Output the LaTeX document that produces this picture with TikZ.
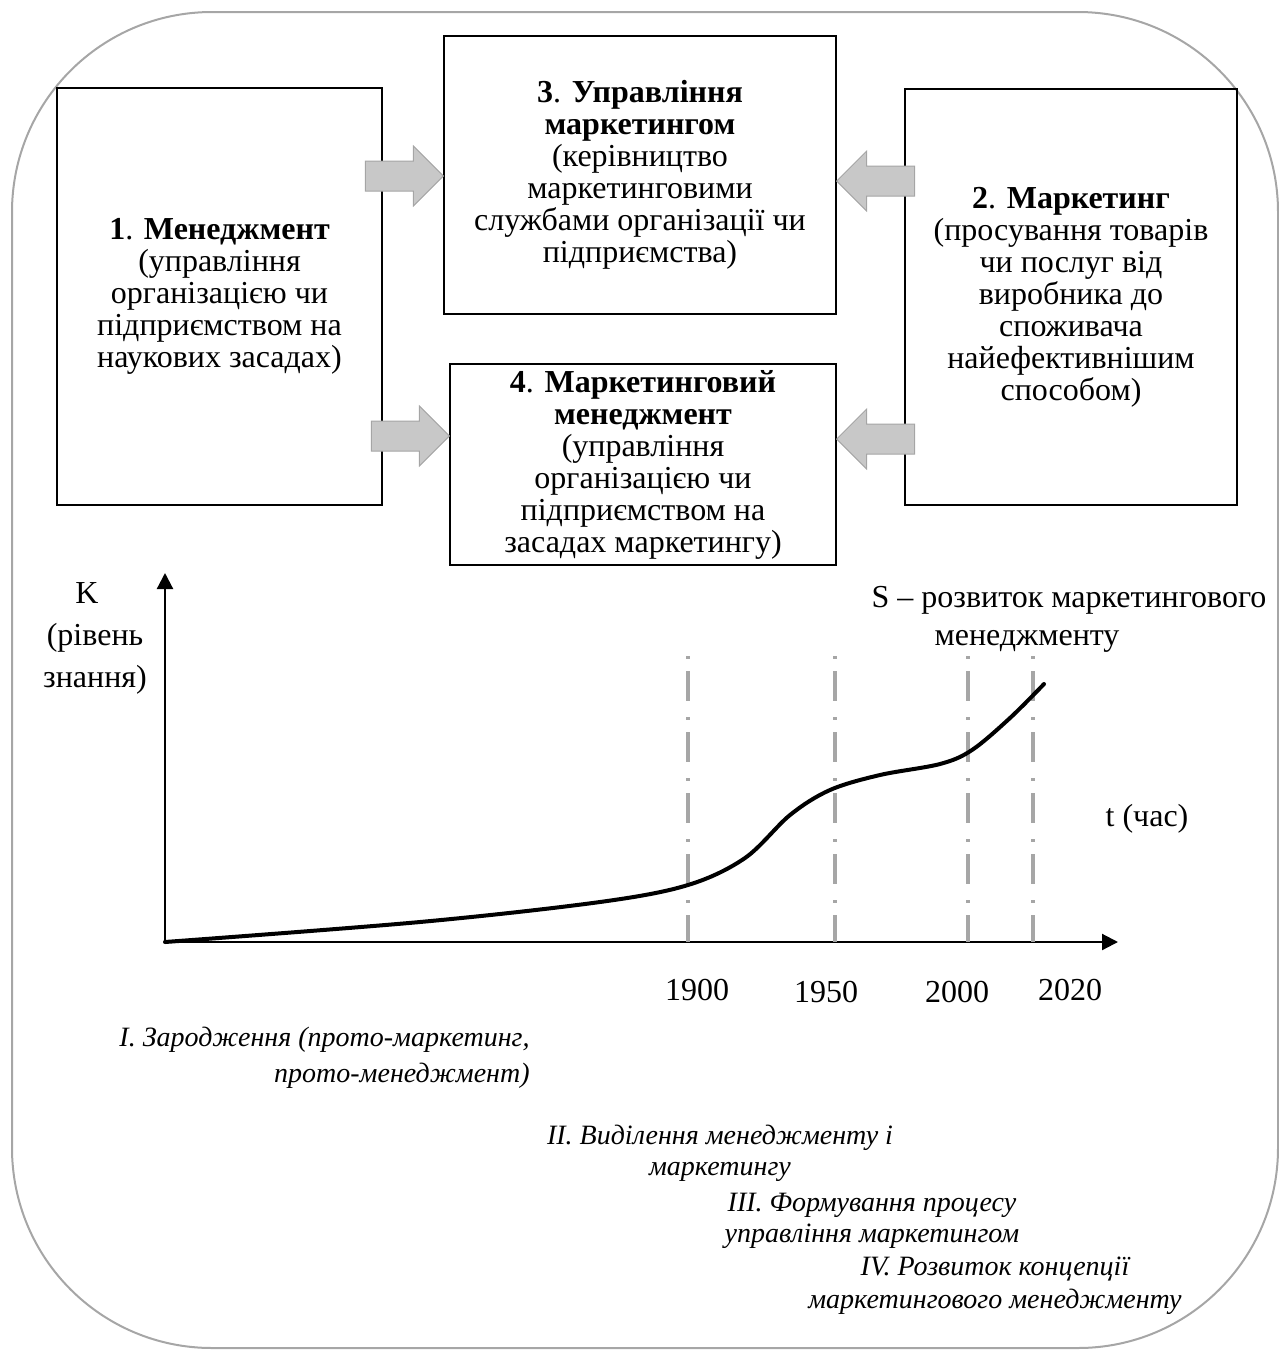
\documentclass[tikz,border=0pt]{standalone}
\usepackage{fontspec}
\setmainfont{Liberation Serif}
\usetikzlibrary{arrows.meta}
\definecolor{framegray}{HTML}{A6A6A6}
\definecolor{arrowfill}{HTML}{C8C8C8}
\definecolor{arrowedge}{HTML}{A5A5A5}
\begin{document}
\begin{tikzpicture}[x=0.5pt,y=-0.5pt,
  every node/.style={font=\fontsize{16}{16}\selectfont, inner sep=0pt},
  box/.style={draw=black, line width=0.7pt, align=center},
  phase/.style={align=center, font=\itshape\fontsize{14}{15.5}\selectfont},
  axis/.style={line width=1.1pt, -{Triangle[width=8pt,length=8pt]}},
  era/.style={framegray, line width=1.6pt, dash pattern=on 1.5pt off 6pt on 15pt off 8pt},
  blockarrow/.pic={
    \path[fill=arrowfill, draw=arrowedge, line width=0.5pt]
      (0,0) -- (-30,-30) -- (-30,-15) -- (-78,-15) -- (-78,15)
      -- (-30,15) -- (-30,30) -- cycle;
  }
]
\useasboundingbox (0,0) rectangle (1279,1350);

% outer frame
\draw[framegray, line width=1pt, rounded corners=100pt] (12,12) rectangle (1278,1348);

% four concept boxes
\node[box, minimum width=162.5pt, minimum height=208.5pt] (b1) at (219.5,296.5)
  {\textbf{1}. \textbf{Менеджмент}\\(управління\\організацією чи\\підприємством на\\наукових засадах)};
\node[box, minimum width=196pt, minimum height=139pt] (b3) at (640,175)
  {\textbf{3}. \textbf{Управління}\\\textbf{маркетингом}\\(керівництво\\маркетинговими\\службами організації чи\\підприємства)};
\node[box, minimum width=193pt, minimum height=100.5pt] (b4) at (643,464.5)
  {\textbf{4}. \textbf{Маркетинговий}\\\textbf{менеджмент}\\(управління\\організацією чи\\підприємством на\\засадах маркетингу)};
\node[box, minimum width=166pt, minimum height=208pt] (b2) at (1071,297)
  {\textbf{2}. \textbf{Маркетинг}\\(просування товарів\\чи послуг від\\виробника до\\споживача\\найефективнішим\\способом)};

% block arrows into boxes 3 and 4
\pic at (b3.west |- 0,176) {blockarrow};
\pic[rotate=180] at (b3.east |- 0,181) {blockarrow};
\pic at (b4.west |- 0,436) {blockarrow};
\pic[rotate=180] at (b4.east |- 0,439) {blockarrow};

% axes
\coordinate (O) at (165,942);
\coordinate (ytip) at (165,573);
\coordinate (xtip) at (1118,942);
\draw[axis] (O) -- (ytip);
\draw[axis] (O) -- (xtip);

% era boundaries
\foreach \x in {688,835,968,1033}
  \draw[era] (\x,656) -- (\x,942);

% development curve
\draw[line width=2pt, line cap=round] plot[smooth, tension=0.55] coordinates {
  (165,942) (420,922) (600,902) (688,885) (745,858) (790,815)
  (830,790) (880,775) (940,764) (972,750) (1010,718) (1044,684)};

% axis labels
\node[align=center, font=\fontsize{16}{21}\selectfont] (klab) at (95,638) {K\hspace*{8pt}\\(рівень\\знання)};
\node (s1) at (1069,600) {S – розвиток маркетингового};
\node (s2) at (1027,641) {менеджменту};
\node (tlab) at (1147,819) {t (час)};
\node (y1900) at (697,990) {1900};
\node (y1950) at (826,992) {1950};
\node (y2000) at (957,992) {2000};
\node (y2020) at (1070,990) {2020};

% phases
\node[phase, align=right, anchor=east, font=\itshape\fontsize{14}{18}\selectfont] (ph1) at (530,1058)
  {I. Зародження (прото-маркетинг,\\прото-менеджмент)};
\node[phase] (ph2) at (720,1153) {II. Виділення менеджменту і\\маркетингу};
\node[phase] (ph3) at (872,1221) {III. Формування процесу\\управління маркетингом};
\node[phase, font=\itshape\fontsize{14}{16.5}\selectfont] (ph4) at (995,1286) {IV. Розвиток концепції\\маркетингового менеджменту};
\end{tikzpicture}
\end{document}
